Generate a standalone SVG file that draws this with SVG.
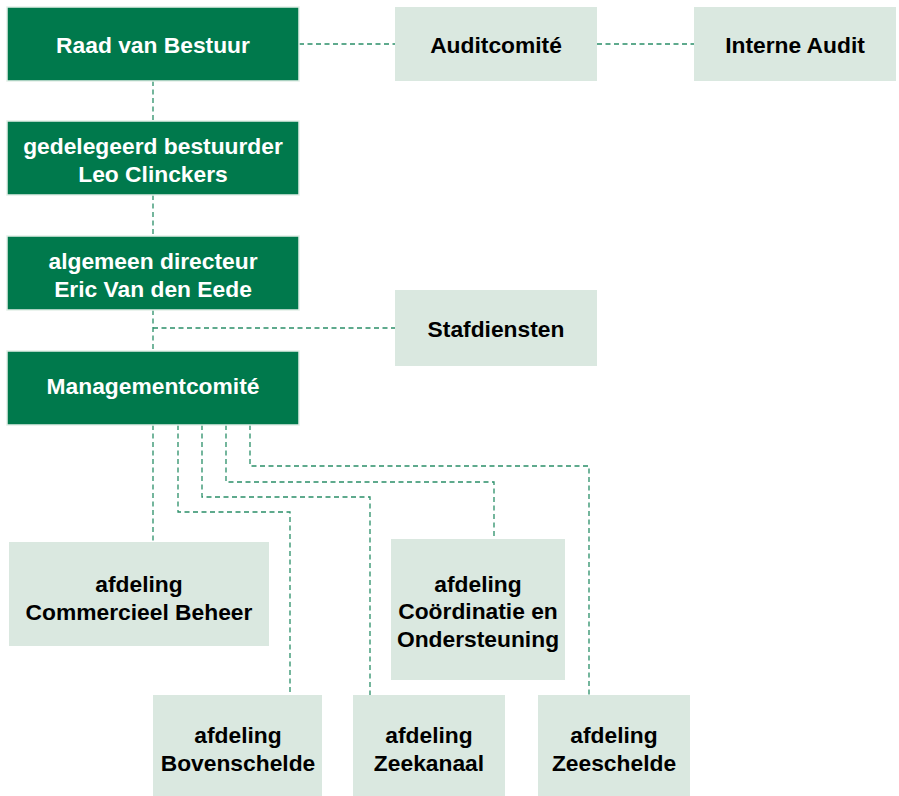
<svg xmlns="http://www.w3.org/2000/svg" width="899" height="796" viewBox="0 0 899 796">
<style>
.dk{fill:#00794C;stroke:#e3efe8;stroke-width:1.5}
.lt{fill:#DAE8E0}
text{font-family:"Liberation Sans",Arial,sans-serif;font-weight:bold;font-size:22.8px;text-anchor:middle}
.w{fill:#ffffff}
.b{fill:#000000}
.c{fill:none;stroke:#2a8f68;stroke-width:1.3;stroke-dasharray:5 3.5}
</style>
<rect width="899" height="796" fill="#ffffff"/>
<g id="connectors">
<path class="c" d="M299 44H395"/>
<path class="c" d="M597 44H694"/>
<path class="c" d="M153 81V121"/>
<path class="c" d="M153 195V236"/>
<path class="c" d="M153 310V351"/>
<path class="c" d="M153 328H395"/>
<path class="c" d="M153 425V542"/>
<path class="c" d="M178 425V512H290V695"/>
<path class="c" d="M202 425V497H370V695"/>
<path class="c" d="M226 425V482H494V539"/>
<path class="c" d="M250 425V466H589V695"/>
</g>
<g id="raad"><rect class="dk" x="7" y="7" width="292" height="74"/><text class="w" x="153" y="53">Raad van Bestuur</text></g>
<g id="audit"><rect class="lt" x="395" y="7" width="202" height="74"/><text class="b" x="496" y="53">Auditcomité</text></g>
<g id="interne"><rect class="lt" x="694" y="7" width="202" height="74"/><text class="b" x="795" y="53">Interne Audit</text></g>
<g id="gedelegeerd"><rect class="dk" x="7" y="121" width="292" height="74"/><text class="w" x="153" y="154">gedelegeerd bestuurder</text><text class="w" x="153" y="182">Leo Clinckers</text></g>
<g id="algemeen"><rect class="dk" x="7" y="236" width="292" height="74"/><text class="w" x="153" y="269">algemeen directeur</text><text class="w" x="153" y="297">Eric Van den Eede</text></g>
<g id="stafdiensten"><rect class="lt" x="395" y="290" width="202" height="76"/><text class="b" x="496" y="337">Stafdiensten</text></g>
<g id="management"><rect class="dk" x="7" y="351" width="292" height="74"/><text class="w" x="153" y="394">Managementcomité</text></g>
<g id="commercieel"><rect class="lt" x="9" y="542" width="260" height="104"/><text class="b" x="139" y="592">afdeling</text><text class="b" x="139" y="620">Commercieel Beheer</text></g>
<g id="coordinatie"><rect class="lt" x="391" y="539" width="174" height="141"/><text class="b" x="478" y="592">afdeling</text><text class="b" x="478" y="619">Coördinatie en</text><text class="b" x="478" y="647">Ondersteuning</text></g>
<g id="bovenschelde"><rect class="lt" x="153" y="695" width="169" height="101"/><text class="b" x="238" y="743">afdeling</text><text class="b" x="238" y="771">Bovenschelde</text></g>
<g id="zeekanaal"><rect class="lt" x="353" y="695" width="152" height="101"/><text class="b" x="429" y="743">afdeling</text><text class="b" x="429" y="771">Zeekanaal</text></g>
<g id="zeeschelde"><rect class="lt" x="538" y="695" width="152" height="101"/><text class="b" x="614" y="743">afdeling</text><text class="b" x="614" y="771">Zeeschelde</text></g>
</svg>
